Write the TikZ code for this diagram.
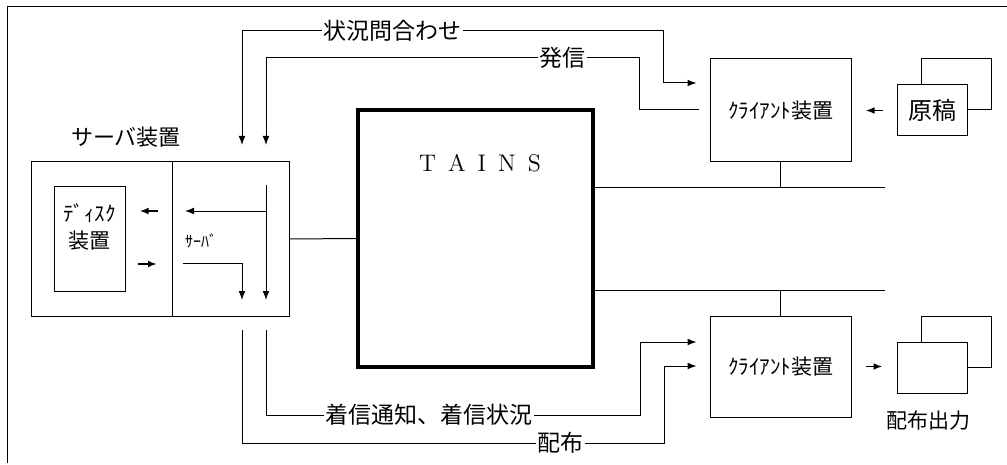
\documentclass[tikz,border=0pt]{standalone}
\usepackage{fontspec}
\newfontfamily\jp{Noto Sans CJK JP}
\usetikzlibrary{arrows.meta}

\begin{document}
\begin{tikzpicture}[x=0.5pt, y=-0.5pt, line width=0.5pt,
        >={Latex[length=4.5pt,width=3.4pt]},
        box/.style={draw, inner sep=0pt},
        short/.style={->, line width=0.9pt, shorten <=7pt, shorten >=7pt},
        lbl/.style={fill=white, inner sep=0.5pt, font=\jp\fontsize{11.5}{13}\selectfont}]
    \useasboundingbox (0,0) rectangle (1007,465);
    % Cornice
    \draw (7,463) -- (7,7) -- (1007,7);

    % Nodi
    \node[box, minimum width=129pt, minimum height=77pt] (srv) at (160,239) {};
    \node[font=\jp\fontsize{11}{13}\selectfont] (srvname) at (126,137) {サーバ装置};
    \coordinate (divT) at (172,162);
    \coordinate (divB) at (172,316);
    \draw (divT) -- (divB);
    \node[box, minimum width=35.5pt, minimum height=52pt] (disk) at (89.5,239) {};
    \node[font=\jp\fontsize{10.5}{13.5}\selectfont, align=center] (disktxt) at (89.5,227) {ﾃﾞｨｽｸ\\装置};
    \node[font=\jp\fontsize{8}{9}\selectfont] (prog) at (201,241) {ｻｰﾊﾞ};

    \node[draw, line width=2pt, minimum width=117.5pt, minimum height=128.5pt] (tains) at (475.5,238.5) {};
    \node[font=\fontsize{12}{14}\selectfont] (tname) at (480,163) {T\hspace{6pt}A\hspace{6pt}I\hspace{6pt}N\hspace{6pt}S};

    \node[box, minimum width=70.5pt, minimum height=51.5pt, font=\jp\fontsize{10.5}{12}\selectfont] (cl1) at (780.5,110.5) {ｸﾗｲｱﾝﾄ装置};
    \node[box, minimum width=70.5pt, minimum height=50.5pt, font=\jp\fontsize{10.5}{12}\selectfont] (cl2) at (780.5,366.5) {ｸﾗｲｱﾝﾄ装置};

    \node[box, minimum width=35pt, minimum height=25.5pt] (msB) at (956,84.5) {};
    \node[box, fill=white, minimum width=35pt, minimum height=25.5pt, font=\jp\fontsize{12}{13}\selectfont] (ms) at (932,110.5) {原稿};
    \node[box, minimum width=35pt, minimum height=25.5pt] (outB) at (956,341.5) {};
    \node[box, fill=white, minimum width=35pt, minimum height=25.5pt] (out) at (932,367.5) {};
    \node[font=\jp\fontsize{10.5}{12}\selectfont] (outname) at (928,421) {配布出力};

    % Linee
    \coordinate (bus1) at (885,187);
    \coordinate (bus2) at (885,290);
    \draw (srv.east) -- (tains.west);
    \draw (tains.east |- bus1) -- (bus1);
    \draw (cl1.south) -- (cl1.south |- bus1);
    \draw (tains.east |- bus2) -- (bus2);
    \draw (cl2.north) -- (cl2.north |- bus2);

    \draw[short] (ms.west) -- (cl1.east);
    \draw[short] (cl2.east) -- (cl2.east -| out.west);

    % dentro il server
    \coordinate (d1) at (172,211);
    \coordinate (d2) at (172,264);
    \draw[short] (d1) -- (disk.east |- d1);
    \draw[short, shorten <=6pt, shorten >=7.5pt] (disk.east |- d2) -- (d2);
    \coordinate (sIn) at (266,185);
    \coordinate (sOut) at (266,300);
    \coordinate (qOut) at (242,300);
    \coordinate (p1) at (185,211);
    \coordinate (p2) at (183,263);
    \draw[->] (sIn) -- (sOut);
    \draw[->] (sIn |- p1) -- (p1);
    \draw[->] (p2) -| (qOut);

    % Archi sopra
    \coordinate (qS) at (242,145);
    \coordinate (sS) at (266,145);
    \coordinate (qk) at (663,83);
    \coordinate (sk) at (639,110);
    \node[lbl] (qlbl) at (392,31) {状況問合わせ};
    \node[lbl] (slbl) at (562,58) {発信};
    \draw[->] (qlbl.west) -| (qS);
    \draw[->, shorten >=6.5pt] (qlbl.east) -| (qk) -- (cl1.west |- qk);
    \draw[->] (slbl.west) -| (sS);
    \draw[shorten >=5.5pt] (slbl.east) -| (sk) -- (cl1.west |- sk);

    % Archi sotto
    \coordinate (nS) at (266,330);
    \coordinate (dS) at (242,330);
    \coordinate (nk) at (640,342);
    \coordinate (dk) at (664,366);
    \node[lbl] (nlbl) at (429,415) {着信通知、着信状況};
    \node[lbl] (dlbl) at (560,443) {配布};
    \draw (nS) |- (nlbl.west);
    \draw[->, shorten >=6.5pt] (nlbl.east) -| (nk) -- (cl2.west |- nk);
    \draw (dS) |- (dlbl.west);
    \draw[->, shorten >=6.5pt] (dlbl.east) -| (dk) -- (cl2.west |- dk);

\end{tikzpicture}
\end{document}
